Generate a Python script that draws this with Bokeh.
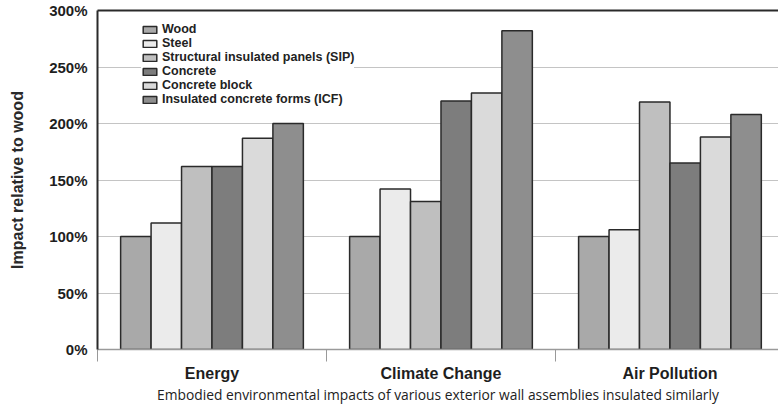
import numpy as np
from bokeh.plotting import figure
from bokeh.models import (Range1d, FixedTicker, LinearAxis, Legend, LegendItem)
from bokeh.embed import file_html
from bokeh.resources import INLINE

categories = ["Energy", "Climate Change", "Air Pollution"]
materials = ["Wood", "Steel", "Structural insulated panels (SIP)", "Concrete",
             "Concrete block", "Insulated concrete forms (ICF)"]
wood = [100, 100, 100]
steel = [112, 142, 106]
sip = [162, 131, 219]
concrete = [162, 220, 165]
concrete_block = [187, 227, 188]
icf = [200, 282, 208]
series = [wood, steel, sip, concrete, concrete_block, icf]
colors = ["#a9a9a9", "#ebebeb", "#bfbfbf", "#7d7d7d", "#dadada", "#8e8e8e"]
y_ticks = [0, 50, 100, 150, 200, 250, 300]

p = figure(width=778, height=406, output_backend="svg", toolbar_location=None,
           x_range=Range1d(0, 2.974), y_range=Range1d(0, 300),
           min_border_left=97, min_border_right=0, min_border_top=10,
           min_border_bottom=57)
p.outline_line_color = None
p.background_fill_color = "white"
p.xgrid.visible = False
p.ygrid.grid_line_color = "#c4c4c4"
p.ygrid.grid_line_width = 1
p.ygrid.ticker = FixedTicker(ticks=y_ticks)

centers = np.arange(len(categories)) + 0.5
bw = 0.133
items = []
for i, (name, vals, col) in enumerate(zip(materials, series, colors)):
    xs = centers + (i - (len(materials) - 1) / 2) * bw
    r = p.vbar(x=xs, top=vals, bottom=0, width=bw, fill_color=col,
               line_color="#2a2a2a", line_width=1.5)
    items.append(LegendItem(label=name, renderers=[r]))

legend = Legend(items=items, location=(44, 243), orientation="vertical")
legend.label_text_font = "Liberation Sans"
legend.label_text_font_style = "bold"
legend.label_text_font_size = "12.5px"
legend.label_text_line_height = 1.0
legend.label_text_color = "#222222"
legend.glyph_width = 17
legend.glyph_height = 9
legend.label_height = 14
legend.spacing = 0
legend.padding = 10
legend.margin = 0
legend.border_line_color = None
legend.background_fill_alpha = 1
legend.label_standoff = 4
p.add_layout(legend, "center")

# x axis
xa = p.xaxis[0]
xa.ticker = FixedTicker(ticks=list(centers), minor_ticks=list(np.arange(len(categories) + 1)))
xa.major_label_overrides = {float(c): cat for c, cat in zip(centers, categories)}
xa.major_tick_out = 0
xa.major_tick_in = 0
xa.minor_tick_out = 12
xa.minor_tick_in = 0
xa.minor_tick_line_color = "#999999"
xa.axis_line_color = "#9a9a9a"
xa.axis_line_width = 1.5
xa.major_label_text_font = "Liberation Sans"
xa.major_label_text_font_style = "bold"
xa.major_label_text_font_size = "16px"
xa.major_label_text_color = "#1e1e1e"
xa.major_label_standoff = 3
xa.axis_label = "Embodied environmental impacts of various exterior wall assemblies insulated similarly"
xa.axis_label_text_font = "Open Sans"
xa.axis_label_text_font_style = "normal"
xa.axis_label_text_font_size = "13.8px"
xa.axis_label_text_color = "#222222"
xa.axis_label_standoff = 0

# y axis
ya = p.yaxis[0]
ya.ticker = FixedTicker(ticks=y_ticks)
ya.major_label_overrides = {t: f"{t}%" for t in y_ticks}
ya.major_tick_out = 0
ya.major_tick_in = 0
ya.minor_tick_out = 0
ya.minor_tick_in = 0
ya.axis_line_color = "#2a2a2a"
ya.axis_line_width = 2
ya.major_label_text_font = "Liberation Sans"
ya.major_label_text_font_style = "bold"
ya.major_label_text_font_size = "15px"
ya.major_label_text_color = "#1e1e1e"
ya.major_label_standoff = 10
ya.axis_label = "Impact relative to wood"
ya.axis_label_text_font = "Liberation Sans"
ya.axis_label_text_font_style = "bold"
ya.axis_label_text_font_size = "16px"
ya.axis_label_text_color = "#2a2a2a"
ya.axis_label_standoff = 20

# top border
top = LinearAxis(ticker=FixedTicker(ticks=[]), major_label_text_font_size="0px",
                 axis_line_color="#2a2a2a", axis_line_width=2,
                 major_tick_out=0, minor_tick_out=0, major_label_standoff=0)
p.add_layout(top, "above")

open("out.html", "w").write(file_html(p, INLINE))
